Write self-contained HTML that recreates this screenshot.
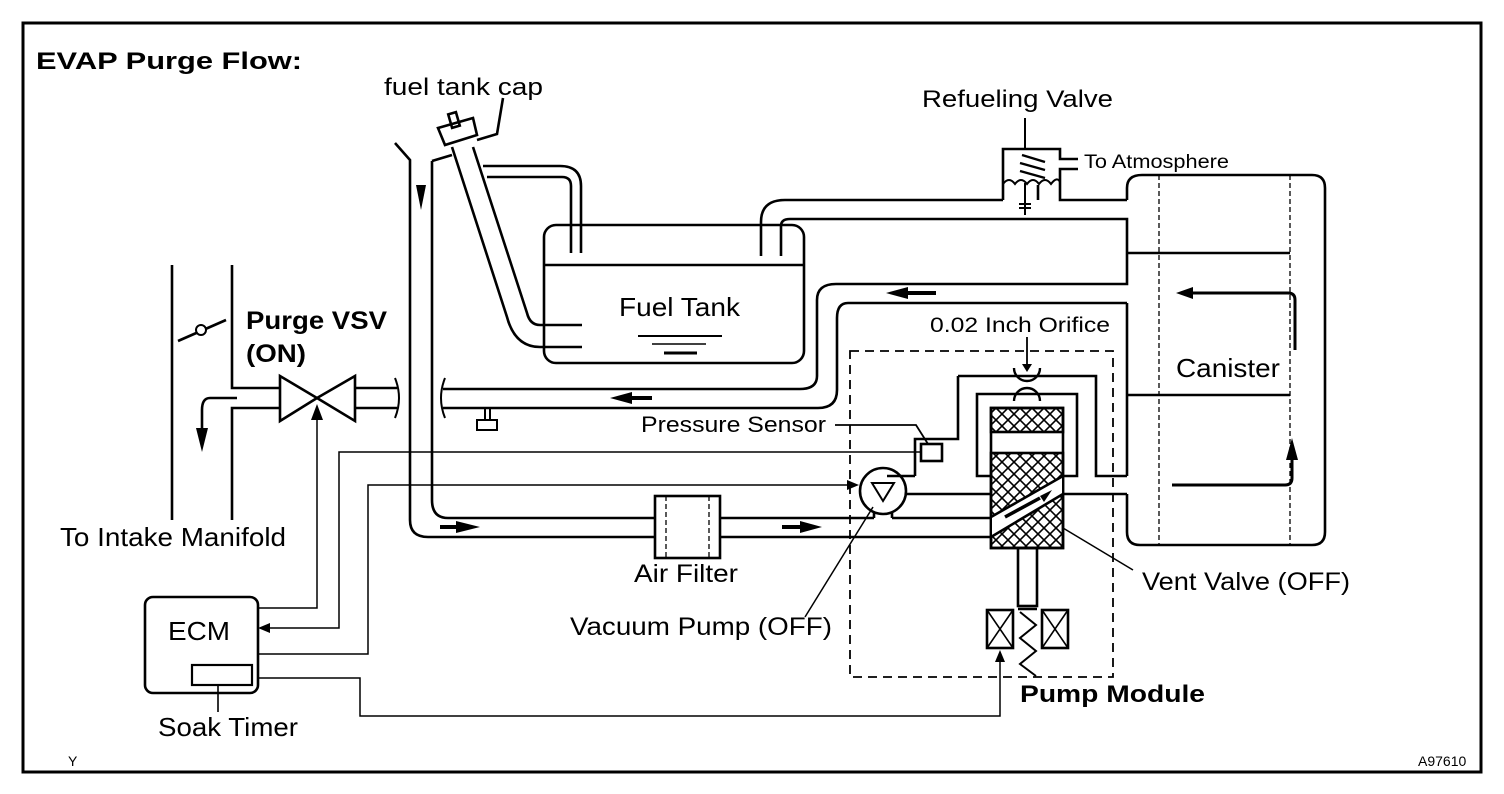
<!DOCTYPE html>
<html><head><meta charset="utf-8"><style>
html,body{margin:0;padding:0;background:#fff}
svg{display:block}
text{font-family:"Liberation Sans",sans-serif;fill:#000}
</style></head><body>
<svg width="1504" height="794" viewBox="0 0 1504 794" xmlns="http://www.w3.org/2000/svg">
<defs>
<pattern id="hatch" width="12" height="12" patternUnits="userSpaceOnUse">
<path d="M0 0L12 12M12 0L0 12" stroke="#000" stroke-width="1.6"/>
</pattern>
</defs>
<g fill="none" stroke="#000" stroke-width="2.6">
<rect x="23" y="23" width="1458" height="749" stroke-width="3"/>
<line x1="172" y1="265" x2="172" y2="520"/>
<polyline points="232,265 232,388 280,388"/>
<polyline points="280,408 232,408 232,520"/>
<line x1="178" y1="341" x2="226" y2="320"/>
<path d="M237 398H210Q202 398 202 410V430"/>
<polygon points="280,376 280,421 317,398"/>
<polygon points="355,376 355,421 317,398"/>
<line x1="355" y1="388" x2="397" y2="388"/>
<line x1="355" y1="408" x2="397" y2="408"/>
<path d="M395 378q8 20 0 40" stroke-width="2"/>
<polyline points="395,143 410,160 410,520"/>
<path d="M410 520Q410 537 428 537H655"/>
<polyline points="432,161 452,155"/>
<path d="M432 161V500Q432 518 448 518H655"/>
<polygon points="438,128 473,118 477,135 445,145"/>
<rect x="450" y="113" width="8" height="14" transform="rotate(-16 454 120)"/>
<path d="M452 147L507 317Q515 347 540 347H582"/>
<path d="M473 147L527 313Q530 325 540 325H582"/>
<polyline points="477,140 497,134 503,98"/>
<path d="M483 166H560Q581 166 581 186V253"/>
<path d="M487 177H562Q571 177 571 186V253"/>
<rect x="544" y="225" width="260" height="138" rx="12"/>
<line x1="544" y1="265" x2="804" y2="265"/>
<line x1="638" y1="336" x2="722" y2="336" stroke-width="2"/>
<line x1="652" y1="344" x2="706" y2="344" stroke-width="1.6"/>
<line x1="664" y1="353" x2="697" y2="353" stroke-width="3"/>
<path d="M761 256V222Q761 200 785 200H1003"/>
<path d="M781 256V226Q781 219 790 219H1127V284H836Q817 284 817 300V376Q817 389 800 389H443"/>
<path d="M1127 303H848Q837 303 837 318V390Q837 408 818 408H443"/>
<path d="M445 378q-8 20 0 40" stroke-width="2"/>
<line x1="485" y1="408" x2="485" y2="420" stroke-width="2"/>
<line x1="490" y1="408" x2="490" y2="420" stroke-width="2"/>
<rect x="477" y="420" width="20" height="10" stroke-width="2"/>
<polyline points="1003,200 1003,149 1060,149 1060,159 1078,159"/>
<polyline points="1078,169 1060,169 1060,200 1127,200"/>
<line x1="1038" y1="185" x2="1038" y2="200"/>
<line x1="1025" y1="118" x2="1025" y2="149" stroke-width="2"/>
<path d="M1003 184q6-8 12 0q6-8 12 0q6-8 12 0q6-8 12 0q6-8 9-2" stroke-width="2"/>
<line x1="1022" y1="155" x2="1045" y2="162" stroke-width="2.4"/>
<line x1="1020" y1="163" x2="1045" y2="170" stroke-width="2.4"/>
<line x1="1020" y1="171" x2="1045" y2="178" stroke-width="2.4"/>
<line x1="1025" y1="183" x2="1025" y2="215" stroke-width="2"/>
<line x1="1019" y1="204" x2="1031" y2="204" stroke-width="2"/>
<line x1="1019" y1="208" x2="1031" y2="208" stroke-width="2"/>
<path d="M1127 200V188Q1127 175 1142 175H1312Q1325 175 1325 188V532Q1325 545 1312 545H1140Q1127 545 1127 532V494"/>
<line x1="1127" y1="303" x2="1127" y2="476"/>
<line x1="1159" y1="175" x2="1159" y2="545" stroke-width="1.3" stroke-dasharray="5,3"/>
<line x1="1290" y1="175" x2="1290" y2="545" stroke-width="1.3" stroke-dasharray="5,3"/>
<line x1="1127" y1="253" x2="1290" y2="253"/>
<line x1="1127" y1="395" x2="1290" y2="395"/>
<path d="M1295 350V300Q1295 293 1288 293H1190" stroke-width="3"/>
<path d="M1172 485H1285Q1292 485 1292 478V455" stroke-width="3"/>
<rect x="850" y="351" width="263" height="326" stroke-width="1.8" stroke-dasharray="9,6"/>
<polyline points="958,376 1096,376 1096,476 1127,476"/>
<polyline points="991,476 977,476 977,394 1077,394 1077,476 1063,476"/>
<polyline points="915,476 915,439 958,439 958,376"/>
<rect x="921" y="444" width="21" height="17"/>
<polyline points="835,425 916,425 928,444" stroke-width="1.8"/>
<line x1="1027" y1="337" x2="1027" y2="368" stroke-width="1.8"/>
<path d="M1014 368a13 13 0 0 0 26 0" stroke-width="2.4"/>
<path d="M1014 401a13 13 0 0 1 26 0" stroke-width="2.4"/>
<rect x="991" y="408" width="72" height="24" fill="url(#hatch)"/>
<rect x="991" y="453" width="72" height="95" fill="url(#hatch)"/>
<rect x="991" y="408" width="72" height="140"/>
<polygon points="992,517 1062,476 1062,494 992,537" fill="#fff" stroke="none"/>
<line x1="991" y1="517" x2="1063" y2="476"/>
<line x1="991" y1="537" x2="1063" y2="494"/>
<line x1="1063" y1="494" x2="1127" y2="494"/>
<line x1="1005" y1="517" x2="1040" y2="498" stroke-width="3.5"/>
<rect x="1018" y="548" width="19" height="58"/>
<rect x="987" y="610" width="26" height="38"/>
<line x1="987" y1="610" x2="1013" y2="648" stroke-width="1.6"/>
<line x1="1013" y1="610" x2="987" y2="648" stroke-width="1.6"/>
<rect x="1042" y="610" width="26" height="38"/>
<line x1="1042" y1="610" x2="1068" y2="648" stroke-width="1.6"/>
<line x1="1068" y1="610" x2="1042" y2="648" stroke-width="1.6"/>
<line x1="1018" y1="609" x2="1037" y2="609"/>
<polyline points="1020,612 1036,625 1020,638 1036,651 1020,664 1036,676" stroke-width="2"/>
<circle cx="883" cy="491" r="23"/>
<polygon points="872,483 894,483 883,501" stroke-width="2"/>
<line x1="720" y1="518" x2="874" y2="518"/>
<line x1="892" y1="513" x2="892" y2="518"/>
<line x1="892" y1="518" x2="991" y2="518"/>
<line x1="874" y1="513" x2="874" y2="518"/>
<line x1="906" y1="494" x2="991" y2="494"/>
<line x1="720" y1="537" x2="991" y2="537"/>
<line x1="887" y1="476" x2="915" y2="476"/>
<rect x="655" y="496" width="65" height="62" fill="#fff"/>
<line x1="666" y1="496" x2="666" y2="558" stroke-width="1.3" stroke-dasharray="5,3"/>
<line x1="709" y1="496" x2="709" y2="558" stroke-width="1.3" stroke-dasharray="5,3"/>
<rect x="145" y="597" width="113" height="96" rx="8"/>
<rect x="192" y="665" width="60" height="20" stroke-width="2.2"/>
<line x1="218" y1="685" x2="218" y2="712" stroke-width="1.6"/>
<g stroke-width="1.5">
<polyline points="258,608 317,608 317,415"/>
<polyline points="921,452 339,452 339,628 268,628"/>
<polyline points="258,654 368,654 368,485 850,485"/>
<polyline points="258,678 360,678 360,716 1000,716 1000,660"/>
<line x1="805" y1="617" x2="873" y2="507"/>
<line x1="1063" y1="528" x2="1133" y2="570"/>
</g>
</g>
<g fill="#000">
<circle cx="201" cy="330" r="5" fill="#fff" stroke="#000" stroke-width="2"/>
<polygon points="196,428 208,428 202,452"/>
<polygon points="416,185 426,185 421,210"/>
<polygon points="456,521 456,533 480,527"/><rect x="440" y="525" width="18" height="4"/>
<polygon points="800,521 800,533 822,527"/><rect x="782" y="525" width="20" height="4"/>
<polygon points="908,287 908,299 886,293"/><rect x="906" y="291" width="30" height="4"/>
<polygon points="632,392 632,404 610,398"/><rect x="630" y="396" width="22" height="4"/>
<polygon points="1193,287 1193,299 1176,293"/>
<polygon points="1286,460 1298,460 1292,438"/>
<polygon points="311,420 323,420 317,404"/>
<polygon points="270,623 270,633 258,628"/>
<polygon points="847,480 847,490 859,485"/>
<polygon points="995,662 1005,662 1000,650"/>
<polygon points="1022,364 1032,364 1027,372"/>
<polygon points="1040,496 1052,490 1044,502"/>
</g>
<g>
<text x="36" y="69" font-size="24" font-weight="bold" textLength="266" lengthAdjust="spacingAndGlyphs">EVAP Purge Flow:</text>
<text x="384" y="95" font-size="24" textLength="159" lengthAdjust="spacingAndGlyphs">fuel tank cap</text>
<text x="922" y="107" font-size="24" textLength="191" lengthAdjust="spacingAndGlyphs">Refueling Valve</text>
<text x="1084" y="168" font-size="19" textLength="145" lengthAdjust="spacingAndGlyphs">To Atmosphere</text>
<text x="619" y="316" font-size="26" textLength="121" lengthAdjust="spacingAndGlyphs">Fuel Tank</text>
<text x="930" y="332" font-size="21" textLength="180" lengthAdjust="spacingAndGlyphs">0.02 Inch Orifice</text>
<text x="246" y="329" font-size="25" font-weight="bold" textLength="141" lengthAdjust="spacingAndGlyphs">Purge VSV</text>
<text x="246" y="362" font-size="25" font-weight="bold" textLength="60" lengthAdjust="spacingAndGlyphs">(ON)</text>
<text x="1176" y="377" font-size="26" textLength="104" lengthAdjust="spacingAndGlyphs">Canister</text>
<text x="641" y="432" font-size="22" textLength="185" lengthAdjust="spacingAndGlyphs">Pressure Sensor</text>
<text x="60" y="546" font-size="26" textLength="226" lengthAdjust="spacingAndGlyphs">To Intake Manifold</text>
<text x="634" y="582" font-size="25" textLength="104" lengthAdjust="spacingAndGlyphs">Air Filter</text>
<text x="1142" y="590" font-size="25" textLength="208" lengthAdjust="spacingAndGlyphs">Vent Valve (OFF)</text>
<text x="570" y="635" font-size="25" textLength="262" lengthAdjust="spacingAndGlyphs">Vacuum Pump (OFF)</text>
<text x="168" y="640" font-size="26" textLength="62" lengthAdjust="spacingAndGlyphs">ECM</text>
<text x="1020" y="702" font-size="24" font-weight="bold" textLength="185" lengthAdjust="spacingAndGlyphs">Pump Module</text>
<text x="158" y="736" font-size="26" textLength="140" lengthAdjust="spacingAndGlyphs">Soak Timer</text>
<text x="68" y="766" font-size="14">Y</text>
<text x="1418" y="766" font-size="14">A97610</text>
</g>
</svg>
</body></html>
